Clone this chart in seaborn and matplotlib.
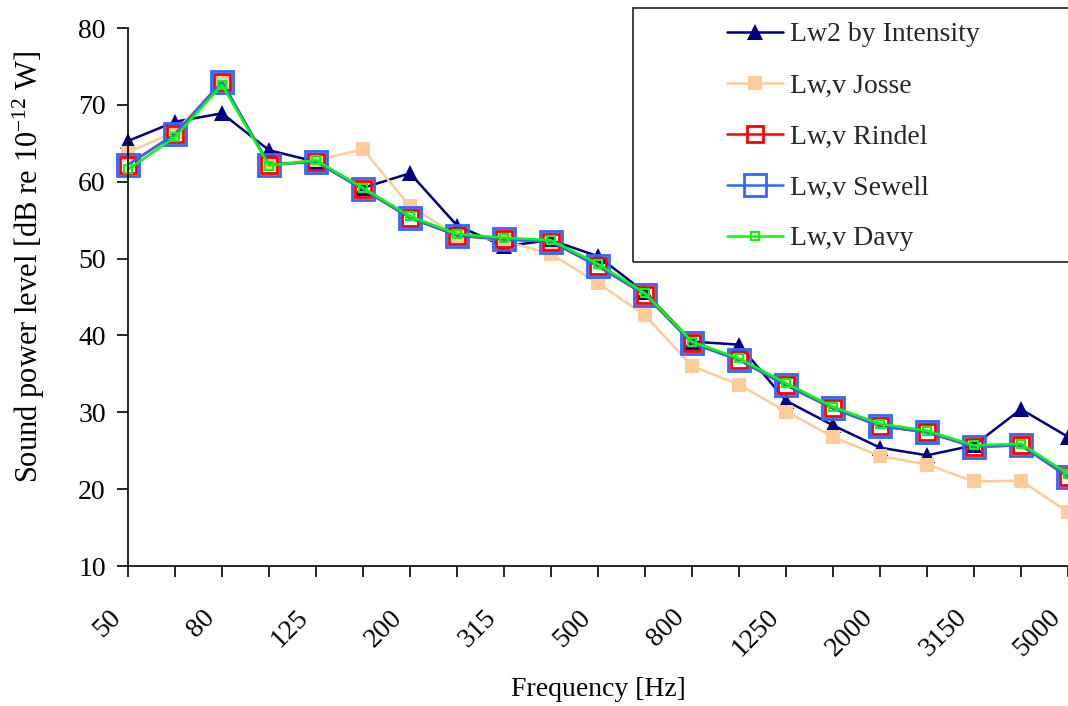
import matplotlib
matplotlib.use("Agg")
import matplotlib.pyplot as plt
import matplotlib.transforms as mtransforms
from matplotlib.patches import Rectangle
import seaborn as sns
import numpy as np

# Third-octave band centre frequencies (Hz)
freqs = ["50", "63", "80", "100", "125", "160", "200", "250", "315", "400", "500",
         "630", "800", "1000", "1250", "1600", "2000", "2500", "3150", "4000", "5000"]

lw2_intensity = [65.3, 67.8, 68.9, 64.1, 62.6, 59.2, 61.1, 54.3, 51.6, 52.4, 50.3,
                 45.6, 39.2, 38.8, 31.5, 28.3, 25.4, 24.4, 25.7, 30.4, 26.8]
lwv_josse = [63.8, 66.5, 73.0, 62.3, 62.8, 64.2, 56.8, 53.0, 52.3, 50.6, 46.8,
             42.6, 36.0, 33.6, 30.1, 26.8, 24.3, 23.2, 21.0, 21.1, 17.0]
lwv_rindel = [62.2, 66.2, 73.0, 62.2, 62.6, 59.0, 55.3, 53.0, 52.5, 52.2, 49.0,
              45.3, 39.0, 36.8, 33.5, 30.5, 28.2, 27.4, 25.5, 25.7, 21.6]
lwv_sewell = [62.2, 66.2, 73.0, 62.2, 62.6, 59.0, 55.3, 53.0, 52.5, 52.2, 49.0,
              45.3, 39.0, 36.8, 33.5, 30.5, 28.2, 27.4, 25.5, 25.7, 21.6]
lwv_davy = [61.6, 65.8, 72.6, 62.1, 62.8, 59.2, 55.5, 53.2, 52.7, 52.4, 49.3,
            45.5, 39.2, 37.0, 33.8, 30.7, 28.5, 27.6, 25.7, 25.9, 22.0]

sns.set_theme(style="ticks")
plt.rcParams["font.family"] = ["Liberation Serif", "DejaVu Serif"]
plt.rcParams["mathtext.default"] = "regular"

fig = plt.figure(figsize=(10.68, 7.06), dpi=100)
ax = fig.add_axes([128 / 1068, 1 - 566 / 706, 1 - 128 / 1068, (566 - 28) / 706])

pos = np.arange(len(freqs))

sns.lineplot(x=pos, y=lw2_intensity, ax=ax, color="#000080", lw=1.8, marker="^",
             markersize=11, markerfacecolor="#000080", markeredgecolor="#000080",
             markeredgewidth=0, clip_on=False, label="Lw2 by Intensity")
sns.lineplot(x=pos, y=lwv_josse, ax=ax, color="#FFCC99", lw=1.8, marker="s",
             markersize=10, markerfacecolor="#FFCC99", markeredgecolor="#FFCC99",
             markeredgewidth=0, clip_on=False, label="Lw,v Josse")
sns.lineplot(x=pos, y=lwv_rindel, ax=ax, color="#FF0000", lw=1.8, marker="s",
             markersize=12, markerfacecolor="none", markeredgecolor="#FF0000",
             markeredgewidth=2, clip_on=False, label="Lw,v Rindel")
sns.lineplot(x=pos, y=lwv_sewell, ax=ax, color="#3366FF", lw=1.8, marker="s",
             markersize=16, markerfacecolor="none", markeredgecolor="#3366FF",
             markeredgewidth=2, clip_on=False, label="Lw,v Sewell")
sns.lineplot(x=pos, y=lwv_davy, ax=ax, color="#00FF00", lw=1.8, marker="s",
             markersize=6, markerfacecolor="none", markeredgecolor="#00FF00",
             markeredgewidth=1.5, clip_on=False, label="Lw,v Davy")

ax.set_xlim(0, len(freqs) - 1)
ax.set_ylim(10, 80)
ax.set_yticks(range(10, 81, 10))
ax.set_xticks(pos)
ax.set_xticklabels([f if i % 2 == 0 else "" for i, f in enumerate(freqs)],
                   rotation=45, ha="right", va="top", rotation_mode="anchor")
ax.tick_params(axis="both", labelsize=20, length=8, width=1.2, color="black",
               labelcolor="black")
ax.tick_params(axis="x", pad=20)
ax.tick_params(axis="y", pad=8)
# nudge the slanted labels left, like the original
shift = mtransforms.ScaledTranslation(-0.2, 0, fig.dpi_scale_trans)
for lab in ax.get_xticklabels():
    lab.set_transform(lab.get_transform() + shift)

for side in ["top", "right"]:
    ax.spines[side].set_visible(False)
for side in ["left", "bottom"]:
    ax.spines[side].set_color("black")
    ax.spines[side].set_linewidth(1.2)

ax.set_xlabel("Frequency [Hz]", fontsize=20, color="black")
ax.xaxis.set_label_coords(0.5, -0.207)
ax.set_ylabel("Sound power level [dB re 10$^{-12}$ W]", fontsize=22,
              color="black")
ax.yaxis.set_label_coords(-0.086, 0.556)

# legend frame and entries
fig.add_artist(Rectangle((633 / 1068, 1 - 262 / 706), 1 - 633 / 1068 + 0.01,
                         (262 - 8) / 706, transform=fig.transFigure, fill=False,
                         ec="#222222", lw=1.2))
ax.legend(loc="upper left", bbox_to_anchor=(727 / 1068, 1 - 22 / 706),
          bbox_transform=fig.transFigure, frameon=False, fontsize=20,
          borderpad=0, borderaxespad=0, handlelength=2.0, handletextpad=0.25,
          labelspacing=0.92)

plt.savefig("out.png", dpi=100)
plt.close()
